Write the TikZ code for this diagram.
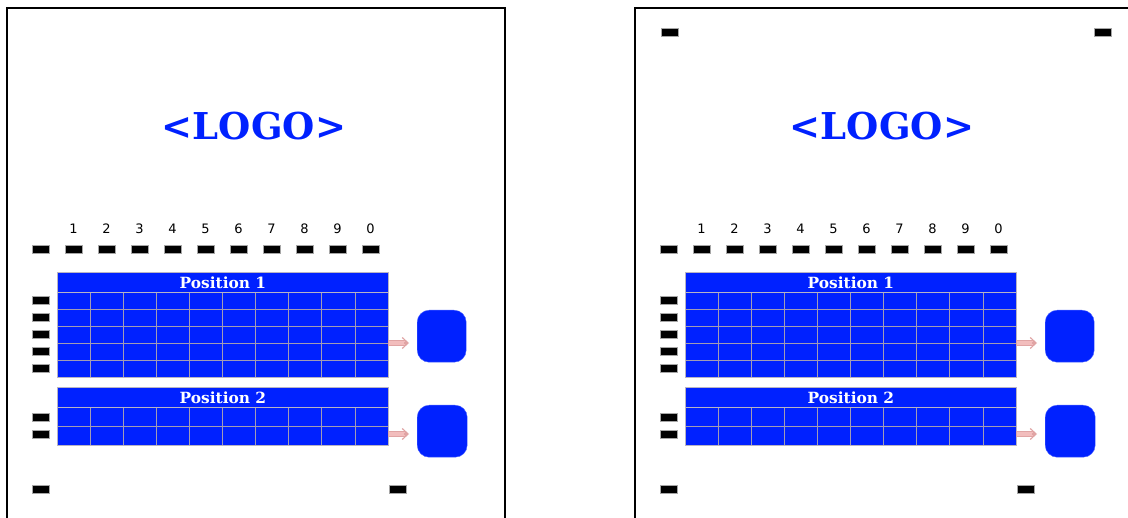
\documentclass[tikz,border=0pt]{standalone}
\usepackage{fontspec}
\setmainfont{DejaVu Serif}
\newfontfamily\numfont{DejaVu Sans}
\usetikzlibrary{arrows.meta}
\definecolor{fillblue}{HTML}{0021FF}
\definecolor{gridgrey}{HTML}{A29CB4}
\definecolor{edgegrey}{HTML}{B8B4C4}
\definecolor{arrowpink}{HTML}{F2BDBD}
\definecolor{arrowedge}{HTML}{E0A4A4}
\tikzset{
  pad/.style={fill=black, draw=gray!70, line width=0.4pt, minimum width=17pt, minimum height=8pt, inner sep=0pt},
  logo/.style={text=fillblue, font=\fontsize{37}{42}\selectfont\bfseries, inner sep=0pt},
  digit/.style={font=\numfont\fontsize{13}{15}\selectfont, inner sep=0pt},
  header/.style={fill=fillblue, draw=edgegrey, line width=0.8pt, text=white, font=\fontsize{15.4}{17}\selectfont\bfseries, minimum width=331pt, minimum height=20pt, inner sep=0pt, anchor=north west},
  body/.style={fill=fillblue, draw=edgegrey, line width=0.8pt, minimum width=331pt, inner sep=0pt, anchor=north west},
  gridline/.style={draw=gridgrey, line width=0.8pt},
  btn/.style={fill=fillblue, draw=fillblue!70!white, line width=0.4pt, rounded corners=12pt, minimum width=49pt, minimum height=52pt, inner sep=0pt, anchor=north west},
  flowshaft/.style={draw=arrowedge, line width=0.5pt, fill=arrowpink},
  flow/.style={draw=arrowedge, line width=1.1pt, -{Straight Barb[length=6pt,width=11pt]}},
  frame/.style={draw=black, line width=2.6pt}
}
\newcommand\drawpanel[2]{%
  % #1 prefix, #2 show top pads
  \draw[frame] (7,8) rectangle (505,540);
  \node[logo] (#1logo) at (254,126) {<LOGO>};
  \foreach \i/\t in {0/1,1/2,2/3,3/4,4/5,5/6,6/7,7/8,8/9,9/0} {
    \node[digit] (#1num\i) at ({73.5+33*\i},229) {\t};
    \node[pad] (#1tp\i) at ({73.5+33*\i},249) {};
  }
  \node[pad] (#1tp0l) at (40.5,249) {};
  % table 1
  \node[header] (#1h1) at (57,272) {Position 1};
  \node[body, minimum height=85pt] (#1b1) at (57,292) {};
  \foreach \k in {1,...,9} \draw[gridline] ({57+33.1*\k},292) -- ({57+33.1*\k},377);
  \foreach \r in {1,...,4} \draw[gridline] (57,{292+17*\r}) -- (388,{292+17*\r});
  \draw[draw=edgegrey, line width=0.8pt] (57,292) rectangle (388,377);
  \foreach \r in {0,...,4} \node[pad] (#1lp\r) at (40.5,{300.5+17*\r}) {};
  % table 2
  \node[header] (#1h2) at (57,387) {Position 2};
  \node[body, minimum height=38pt] (#1b2) at (57,407) {};
  \foreach \k in {1,...,9} \draw[gridline] ({57+33.1*\k},407) -- ({57+33.1*\k},445);
  \draw[gridline] (57,426.5) -- (388,426.5);
  \draw[draw=edgegrey, line width=0.8pt] (57,407) rectangle (388,445);
  \node[pad] (#1mp0) at (40.5,417) {};
  \node[pad] (#1mp1) at (40.5,434) {};
  % buttons and arrows
  \node[btn] (#1s1) at (417,310) {};
  \node[btn, minimum height=52pt, minimum width=50pt] (#1s2) at (417,405) {};
  \coordinate (#1a1) at (388.5,343);
  \coordinate (#1e1) at (409,343);
  \coordinate (#1a2) at (388.5,434);
  \coordinate (#1e2) at (409,434);
  \foreach \n in {1,2} {
    \draw[flowshaft] ([yshift=-2.5pt]#1a\n) rectangle ([xshift=-4pt,yshift=2.5pt]#1e\n);
    \draw[flow] ([xshift=-5pt]#1e\n) -- (#1e\n);
  }
  % bottom pads
  \node[pad] (#1bp0) at (40.5,489) {};
  \node[pad] (#1bp1) at (397.5,489) {};
  \ifnum#2=1
    \node[pad] (#1cp0) at (41.5,32) {};
    \node[pad] (#1cp1) at (474.5,32) {};
  \fi
}
\begin{document}
\begin{tikzpicture}[x=1pt,y=-1pt]
  \useasboundingbox (0,0) rectangle (1128,518);
  \clip (0,0) rectangle (1128,518);
  \fill[white] (0,0) rectangle (1128,518);
  \begin{scope}
    \drawpanel{L}{0}
  \end{scope}
  \begin{scope}[shift={(628,0)}]
    \drawpanel{R}{1}
  \end{scope}
\end{tikzpicture}
\end{document}
